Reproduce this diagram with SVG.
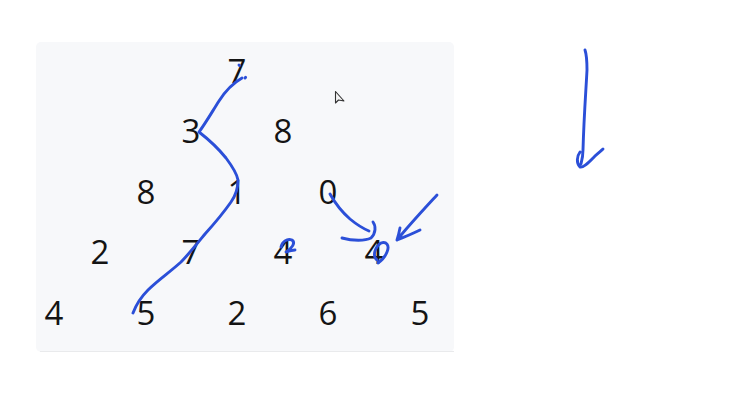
<svg xmlns="http://www.w3.org/2000/svg" width="730" height="408" viewBox="0 0 730 408">
<style>
.n{font-family:"Open Sans","Noto Sans","DejaVu Sans",sans-serif;font-size:33px;fill:#141414;text-anchor:middle}
.ink{fill:none;stroke:#2b4fd8;stroke-width:2.9;stroke-linecap:round;stroke-linejoin:round}
</style>
<rect x="0" y="0" width="730" height="408" fill="#ffffff"/>
<rect x="36" y="42" width="418" height="310" rx="5" fill="#f7f8fa"/>
<line x1="40" y1="351.5" x2="454" y2="351.5" stroke="#e9eaec" stroke-width="1"/>
<g id="r0c0"><text class="n" x="237" y="83">7</text></g>
<g id="r1c0"><text class="n" x="191" y="143">3</text></g>
<g id="r1c1"><text class="n" x="283" y="143">8</text></g>
<g id="r2c0"><text class="n" x="146" y="204">8</text></g>
<g id="r2c1"><text class="n" x="237" y="204">1</text></g>
<g id="r2c2"><text class="n" x="328" y="204">0</text></g>
<g id="r3c0"><text class="n" x="100" y="264">2</text></g>
<g id="r3c1"><text class="n" x="191" y="264">7</text></g>
<g id="r3c2"><text class="n" x="283" y="264">4</text></g>
<g id="r3c3"><text class="n" x="374" y="264">4</text></g>
<g id="r4c0"><text class="n" x="54" y="325">4</text></g>
<g id="r4c1"><text class="n" x="146" y="325">5</text></g>
<g id="r4c2"><text class="n" x="237" y="325">2</text></g>
<g id="r4c3"><text class="n" x="328" y="325">6</text></g>
<g id="r4c4"><text class="n" x="420" y="325">5</text></g>
<g id="connectors">
<path class="ink" d="M242,78 C235,82 226,90 219,101 C212,112 205,124 199,132 C208,139 218,148 226,158 C232,166 237,174 238,180 C238,188 236,195 231,202 C224,212 214,224 205,234 C196,245 188,255 181,262 C170,272 158,280 148,290 C141,297 136,305 133,313"/>
<path class="ink" d="M239,65 l0.5,0.5 M245,78 l0.6,-0.6" stroke-width="1.6"/>
<path class="ink" d="M330,194 C335,203 342,212 350,219 C356,224 362,228 369,231"/>
<path class="ink" d="M373,222 C376,226 376,233 371,238 C365,241 353,241 342,238"/>
<path class="ink" d="M377,260 C372,256 375,247 381,243 C386,241 390,245 387,252 C385,257 381,261 378,263"/>
<path class="ink" d="M437,195 C425,208 410,224 397,240 M400,228 C399,233 398,237 397,240 C404,237 412,234 420,230"/>
<path class="ink" d="M281,247 C282,242 287,238 292,240 C296,243 292,248 286,252 C289,251 292,250 295,250" stroke-width="2"/>
<path class="ink" d="M585,50 C587,56 587,62 587,70 C586,90 584,115 583,150 C583,156 582,160 581,164 M580,152 C577,156 576,163 580,167 C584,168 590,161 595,156 C598,153 601,151 603,149"/>
<path d="M335.5,91.5 L335.5,103 L338.5,100 L344,101 Z" fill="#f4f4f4" stroke="#333" stroke-width="1.1" stroke-linejoin="round"/>
</g>
</svg>
